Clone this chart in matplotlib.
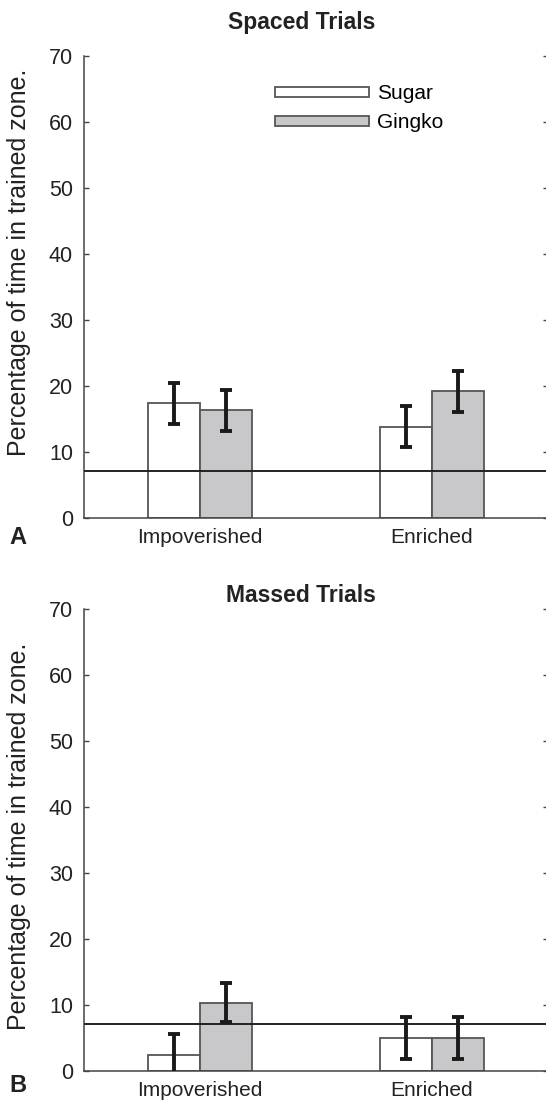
import matplotlib
matplotlib.use("Agg")
import matplotlib.pyplot as plt
from matplotlib.patches import Patch
import numpy as np

plt.rcParams['font.family'] = ['Liberation Sans', 'DejaVu Sans']

categories = ["Impoverished", "Enriched"]
series = ["Sugar", "Gingko"]
spaced_sugar = [17.4, 13.85]
spaced_sugar_err = [3.1, 3.15]
spaced_gingko = [16.3, 19.2]
spaced_gingko_err = [3.15, 3.1]
massed_sugar = [2.5, 5.0]
massed_sugar_err = [3.05, 3.2]
massed_gingko = [10.35, 5.05]
massed_gingko_err = [3.0, 3.2]
chance_level = 7.14
yticks = [0, 10, 20, 30, 40, 50, 60, 70]

W, H = 546, 1103
fig = plt.figure(figsize=(W / 100, H / 100), dpi=100)

def px_axes(left, right, top, bottom):
    return fig.add_axes([left / W, 1 - bottom / H, (right - left) / W, (bottom - top) / H])

edge = '#555555'
gray_face = '#c8c8ca'
bw = 0.226

def draw_panel(ax, sugar, sugar_err, gingko, gingko_err, legend=False):
    x = np.arange(len(categories))
    ax.bar(x - bw / 2, sugar, bw, color='white', edgecolor=edge, linewidth=1.3, zorder=2, label=series[0])
    ax.bar(x + bw / 2, gingko, bw, color=gray_face, edgecolor=edge, linewidth=1.3, zorder=2, label=series[1])
    ax.axhline(chance_level, color='#222222', linewidth=1.4, zorder=3)
    ax.errorbar(x - bw / 2, sugar, yerr=sugar_err, fmt='none', ecolor='#1a1a1a',
                elinewidth=2.8, capsize=4.3, capthick=2.8, zorder=4)
    ax.errorbar(x + bw / 2, gingko, yerr=gingko_err, fmt='none', ecolor='#1a1a1a',
                elinewidth=2.8, capsize=4.3, capthick=2.8, zorder=4)
    ax.set_xlim(-0.5, 1.5)
    ax.set_ylim(0, 70)
    ax.set_yticks(yticks)
    ax.set_xticks(x)
    ax.set_xticklabels(categories, fontsize=15, color='#222222')
    ax.tick_params(axis='x', length=0, pad=7)
    ax.tick_params(axis='y', direction='in', length=3.5, width=1, colors='#444444',
                   labelcolor='#222222', labelsize=15.5, pad=8, right=True)
    ax.spines['top'].set_visible(False)
    for s in ['left', 'bottom', 'right']:
        ax.spines[s].set_color('#444444')
        ax.spines[s].set_linewidth(1.1)
    if legend:
        handles = [Patch(facecolor='white', edgecolor=edge, linewidth=1.3, label=series[0]),
                   Patch(facecolor=gray_face, edgecolor=edge, linewidth=1.3, label=series[1])]
        fig.legend(handles=handles, loc='upper left', bbox_to_anchor=(275 / W, 1 - 84 / H),
                   frameon=False, fontsize=15, handlelength=4.5, handleheight=0.36,
                   handletextpad=0.42, labelspacing=0.5, borderpad=0, borderaxespad=0)

ax1 = px_axes(84, 548, 56, 518)
draw_panel(ax1, spaced_sugar, spaced_sugar_err, spaced_gingko, spaced_gingko_err, legend=True)
ax2 = px_axes(84, 548, 609, 1071)
draw_panel(ax2, massed_sugar, massed_sugar_err, massed_gingko, massed_gingko_err)

fig.text(302 / W, 1 - 22 / H, "Spaced Trials", ha='center', va='center', fontsize=16.5, fontweight='bold', color='#222222')
fig.text(301 / W, 1 - 595 / H, "Massed Trials", ha='center', va='center', fontsize=16.5, fontweight='bold', color='#222222')
ylabel = "Percentage of time in trained zone."
fig.text(19 / W, 1 - 262 / H, ylabel, rotation=90, ha='center', va='center', fontsize=18, color='#222222')
fig.text(19 / W, 1 - 836 / H, ylabel, rotation=90, ha='center', va='center', fontsize=18, color='#222222')
fig.text(18 / W, 1 - 537 / H, "A", ha='center', va='center', fontsize=17, fontweight='bold', color='#222222')
fig.text(18 / W, 1 - 1085 / H, "B", ha='center', va='center', fontsize=17, fontweight='bold', color='#222222')

fig.savefig("out.png", dpi=100)
